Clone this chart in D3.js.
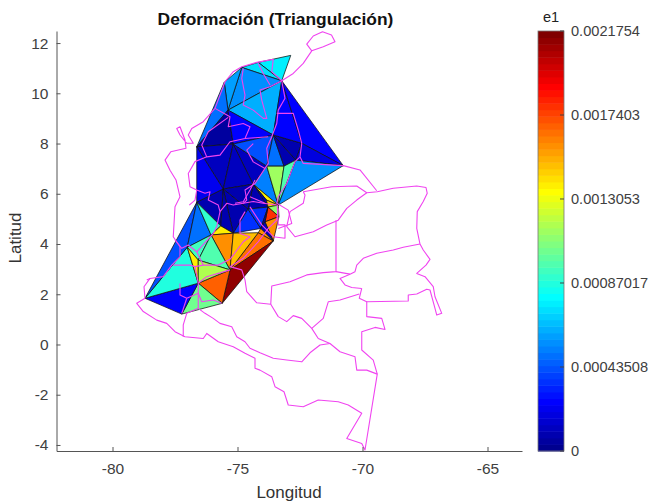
<!DOCTYPE html>
<html lang="es">
<head>
<meta charset="UTF-8">
<title>Deformación (Triangulación)</title>
<style>
body { margin: 0; background: #fff; }
svg { display: block; font-family: "Liberation Sans", Arial, sans-serif; }
.axis text { font-size: 15.5px; fill: #404040; }
.axis path, .axis line { stroke: #555; }
.cbar text { font-size: 14.6px; fill: #404040; }
.tri { stroke: #111; stroke-width: 0.75; stroke-linejoin: round; }
.border { fill: none; stroke: #f044f0; stroke-width: 1.1; stroke-linejoin: round; }
.map { filter: blur(0.35px); }
</style>
</head>
<body>
<svg width="649" height="504"></svg>
<script src="https://d3js.org/d3.v7.min.js"></script>
<script>
// ticks and limits
const lonTicks = [-80, -75, -70, -65];
const latTicks = [-4, -2, 0, 2, 4, 6, 8, 10, 12];
const lonLim = [-82.24, -63.62];
const latLim = [-4.24, 12.48];
const e1Max = 0.0021754;
const e1Ticks = [0, 0.00043508, 0.00087017, 0.0013053, 0.0017403, 0.0021754];
const e1Labels = ['0', '0.00043508', '0.00087017', '0.0013053', '0.0017403', '0.0021754'];

// triangulation vertices
const nodeLon = [-72.87, -74.17, -74.83, -73.23, -75.53, -75.38, -73.57, -76.63, -75.17, -70.77,
  -72.43, -73.83, -73.14, -72.67, -73.37, -74.37, -75.57, -76.63, -73.78, -73.34,
  -73.57, -75.30, -77.01, -76.06, -75.17, -74.17, -74.07, -76.57, -76.57, -78.70,
  -77.23, -75.61, -74.58, -73.84, -73.90, -75.67];
const nodeLat = [11.51, 11.23, 11.03, 10.50, 10.44, 9.33, 8.34, 7.87, 7.98, 7.12,
  8.01, 7.10, 7.10, 7.34, 5.55, 6.38, 6.19, 5.66, 5.47, 5.09,
  4.12, 2.97, 3.87, 4.36, 4.43, 4.45, 4.62, 2.44, 3.36, 1.84,
  1.21, 1.64, 5.39, 5.75, 4.88, 4.72];

// triangle corners (indices into the node arrays) and e1 per triangle
const triangles = [
  [0, 1, 3], [1, 2, 3], [2, 3, 5], [2, 4, 5], [3, 5, 6], [4, 5, 7], [5, 7, 8], [5, 6, 8],
  [7, 8, 16], [7, 16, 17], [8, 16, 15], [8, 15, 11], [8, 6, 11], [6, 11, 12], [6, 10, 13], [6, 12, 13],
  [3, 6, 10], [3, 10, 9], [10, 9, 13], [15, 11, 14], [11, 12, 14], [12, 13, 14], [13, 9, 14],
  [15, 33, 14], [15, 33, 18], [15, 18, 32], [16, 15, 32], [16, 32, 24], [32, 24, 26], [32, 18, 26],
  [17, 16, 35], [16, 24, 35], [33, 18, 14], [18, 19, 14], [18, 19, 34], [19, 34, 20], [18, 34, 26],
  [26, 34, 20], [25, 26, 20], [21, 25, 20], [21, 20, 31], [21, 31, 27], [27, 30, 31], [29, 30, 27],
  [29, 22, 27], [29, 17, 22], [17, 22, 23], [17, 23, 35], [35, 23, 24], [23, 24, 21], [24, 25, 21],
  [22, 23, 28], [23, 28, 21], [22, 28, 27], [28, 21, 27]
];
const triValues = [
  0.00078, 0.00074, 0.00057, 0.00061, 0.00063, 0.00048, 0.000065, 0.00026,
  0.00011, 0.00022, 0.00011, 0.00013, 0.00044, 0.00048, 0.00009, 0.00009,
  0.00026, 0.00026, 0.00017, 0.00052, 0.00115, 0.00096, 0.00057,
  0.00139, 0.00009, 0.00009, 0.00009, 0.00009, 0.00037, 0.00037,
  0.00009, 0.00009, 0.00146, 0.00109, 0.00178, 0.00157, 0.00009,
  0.00011, 0.00157, 0.00165, 0.00213, 0.00168, 0.00102, 0.00027,
  0.00085, 0.00041, 0.00050, 0.00091, 0.00137, 0.00159, 0.00148,
  0.00094, 0.00098, 0.00137, 0.00117
];

// department borders, lon/lat pairs
const borders = [
  [[-72.37, 6.08], [-71.23, 6.28], [-70.23, 6.31], [-69.83, 6.04], [-69.41, 6.08], [-68.77, 6.22], [-67.83, 6.31], [-67.46, 6.25], [-67.41, 6.02], [-67.57, 5.69], [-67.81, 5.29], [-67.83, 4.62], [-67.70, 4.00], [-67.57, 3.76], [-67.30, 3.39], [-67.46, 3.16], [-67.83, 2.83], [-67.50, 2.70], [-67.17, 2.30], [-67.10, 1.90], [-66.83, 1.24], [-67.03, 1.17], [-67.10, 1.44], [-67.30, 2.17], [-67.43, 2.20], [-67.83, 2.01], [-68.17, 1.97], [-68.17, 1.73], [-69.83, 1.70], [-70.13, 1.84], [-70.03, 2.23]],
  [[-67.70, 4.00], [-68.37, 3.87], [-68.77, 3.76], [-69.43, 3.63], [-69.97, 3.43], [-70.23, 3.16], [-70.30, 2.90], [-70.50, 2.80], [-70.90, 2.63], [-70.70, 2.37], [-70.43, 2.27], [-70.03, 2.23]],
  [[-69.83, 6.04], [-70.23, 5.75], [-70.63, 5.42], [-70.97, 4.95], [-71.43, 4.76], [-71.97, 4.49], [-72.70, 4.29], [-73.03, 4.69], [-72.90, 5.29], [-72.37, 5.62], [-72.30, 5.95], [-72.37, 6.08]],
  [[-71.06, 4.95], [-71.06, 2.90], [-71.57, 2.86], [-72.23, 2.77], [-72.90, 2.50], [-73.63, 2.33], [-73.67, 1.60], [-74.23, 1.66], [-74.63, 2.10], [-74.70, 2.57], [-74.83, 2.97], [-75.30, 3.10], [-74.77, 3.43], [-74.17, 4.09], [-73.77, 4.62], [-73.43, 4.95], [-73.37, 5.42]],
  [[-71.06, 2.90], [-70.50, 2.80]],
  [[-73.67, 1.60], [-73.37, 1.11], [-73.03, 0.91], [-72.77, 1.15], [-72.43, 1.04], [-72.03, 0.64], [-71.57, 1.04], [-71.37, 1.70], [-70.90, 1.77], [-70.13, 2.01]],
  [[-72.03, 0.64], [-71.77, 0.24], [-71.30, 0.04], [-70.90, -0.29], [-70.30, -0.49], [-70.23, -1.02], [-69.83, -1.02], [-69.41, -1.18]],
  [[-69.83, 1.70], [-69.83, 1.11], [-69.23, 1.04], [-69.10, 0.60], [-69.50, 0.68], [-70.03, 0.51], [-70.03, -0.22], [-69.57, -0.62], [-69.41, -1.18], [-69.90, -4.20], [-70.03, -3.94], [-70.63, -3.74], [-70.03, -2.74], [-70.57, -2.41], [-70.97, -2.28], [-71.77, -2.21], [-72.37, -2.48], [-72.97, -2.41], [-73.14, -1.88], [-73.50, -1.68], [-73.63, -1.28], [-74.10, -1.02], [-74.30, -0.95], [-74.30, -0.55], [-74.70, -0.35], [-75.17, -0.09], [-75.77, 0.11], [-76.23, 0.44], [-76.37, 0.24], [-77.10, 0.31], [-77.50, 0.51], [-77.83, 0.84], [-78.23, 0.97], [-78.77, 1.31], [-79.03, 1.64], [-78.70, 1.84], [-78.74, 2.30], [-78.50, 2.63], [-77.97, 2.70], [-77.63, 3.16], [-77.30, 3.50], [-77.30, 3.89], [-77.57, 4.29], [-77.50, 5.48], [-77.30, 5.88], [-77.46, 6.55], [-77.70, 6.94], [-77.90, 7.34], [-77.67, 7.67], [-77.06, 7.81], [-77.10, 8.14], [-77.30, 8.67], [-77.43, 8.60], [-77.30, 8.34], [-77.03, 8.01], [-76.77, 8.01], [-76.97, 8.34], [-76.83, 8.60], [-76.37, 8.87], [-75.90, 9.40], [-75.50, 10.46], [-75.17, 10.86], [-74.83, 11.06], [-74.23, 11.23], [-73.57, 11.35], [-73.63, 10.86], [-73.23, 10.50], [-72.77, 10.79], [-72.37, 11.19], [-72.03, 11.69], [-72.23, 11.96], [-71.97, 12.28], [-71.60, 12.45], [-71.24, 12.32], [-71.10, 12.05], [-71.57, 11.85], [-72.03, 11.69]],
  [[-71.30, 0.04], [-71.70, -0.02], [-72.10, -0.33], [-72.43, -0.69], [-73.03, -0.62], [-73.57, -0.55], [-74.10, -0.33], [-74.50, -0.15], [-74.70, 0.11], [-75.03, 0.31], [-75.23, 0.71], [-75.70, 0.84], [-75.97, 1.04], [-76.30, 1.24], [-76.57, 1.44], [-76.57, 2.04], [-76.57, 2.44], [-76.70, 3.10]],
  [[-76.57, 1.44], [-77.03, 1.24], [-77.17, 0.78], [-77.17, 0.31]],
  [[-74.77, 10.99], [-74.83, 10.59], [-74.70, 9.93], [-74.77, 9.53], [-74.37, 9.33], [-73.97, 9.00], [-73.83, 9.00], [-74.03, 9.73], [-74.10, 10.13], [-73.70, 10.26], [-73.23, 10.50]],
  [[-74.17, 11.19], [-73.97, 10.79], [-73.70, 10.33]],
  [[-73.23, 10.50], [-73.10, 9.80], [-73.37, 9.33], [-73.43, 8.80], [-73.63, 8.27], [-73.83, 7.81], [-73.77, 7.21], [-73.90, 7.01], [-74.37, 7.27], [-74.63, 7.74], [-74.37, 8.00]],
  [[-73.43, 9.20], [-72.77, 9.20], [-72.57, 8.54], [-72.43, 8.01], [-72.50, 7.47], [-72.37, 7.21], [-70.77, 7.12], [-70.10, 6.95], [-69.43, 6.12]],
  [[-72.50, 7.47], [-72.70, 7.28], [-72.83, 6.94], [-73.03, 6.41], [-73.37, 5.88], [-73.43, 5.62], [-72.97, 5.35], [-72.83, 4.82], [-73.37, 4.62]],
  [[-75.90, 9.40], [-75.30, 9.07], [-75.37, 8.67], [-74.77, 8.80], [-74.50, 8.67], [-74.70, 8.20], [-75.30, 8.07], [-75.70, 7.54], [-76.23, 7.47], [-76.43, 7.94], [-76.17, 8.47], [-75.37, 9.04]],
  [[-74.70, 8.20], [-73.77, 8.27]],
  [[-73.90, 7.01], [-74.30, 6.41], [-74.70, 6.15], [-74.63, 5.75], [-74.77, 5.62]],
  [[-76.23, 7.47], [-76.70, 7.28], [-76.97, 6.81], [-76.90, 6.28], [-76.63, 6.15], [-76.30, 6.02], [-76.10, 6.08], [-76.17, 5.75], [-75.77, 5.55], [-75.70, 5.29], [-75.43, 5.62], [-75.17, 5.55], [-74.77, 5.62], [-74.37, 5.69], [-73.97, 5.62], [-73.43, 5.55]],
  [[-76.63, 6.15], [-76.70, 5.75], [-76.93, 5.55]],
  [[-75.70, 5.29], [-75.83, 4.69], [-75.97, 4.42], [-76.63, 3.69]],
  [[-74.70, 5.29], [-74.90, 4.95], [-74.90, 4.42], [-74.50, 4.29], [-74.77, 4.09], [-75.30, 3.39]],
  [[-74.30, 6.55], [-74.50, 6.15], [-74.77, 5.68], [-75.10, 5.62]],
  [[-74.50, 5.88], [-73.90, 5.62]],
  [[-74.50, 5.48], [-74.03, 4.76], [-73.57, 4.29], [-73.10, 4.23], [-73.10, 4.76], [-73.37, 4.76], [-73.41, 5.55]],
  [[-77.50, 4.16], [-77.23, 3.83], [-76.97, 3.96], [-76.63, 3.69], [-76.37, 3.16], [-75.77, 3.16], [-75.30, 3.39]],
  [[-78.63, 2.57], [-78.50, 2.63]],
  [[-77.57, 3.16], [-76.90, 3.16], [-76.70, 3.10], [-76.37, 3.16]],
  [[-77.30, 2.43], [-77.30, 1.97], [-77.03, 1.84], [-76.57, 2.04], [-76.43, 1.70], [-75.97, 1.77], [-75.63, 1.64]],
  [[-77.03, 1.84], [-77.23, 1.24]],
  [[-76.57, 2.44], [-76.23, 2.70], [-75.30, 2.97]]
];

const svg = d3.select('svg');
const x = d3.scaleLinear().domain(lonLim).range([56.5, 522]);
const y = d3.scaleLinear().domain(latLim).range([451, 31]);

// jet, 64 levels like the matlab colorbar
const jetIndex = d3.scaleLinear()
  .domain([0, 7, 23, 39, 55, 63])
  .range(['#00008f', '#0000ff', '#00ffff', '#ffff00', '#ff0000', '#800000']);
const jet = d3.scaleQuantize().domain([0, e1Max]).range(d3.range(64).map(i => jetIndex(i)));

const line = d3.line().x(d => x(d[0])).y(d => y(d[1]));

svg.append('defs').append('clipPath').attr('id', 'plotClip')
  .append('rect').attr('x', 56.5).attr('y', 31).attr('width', 465.5).attr('height', 420);

const map = svg.append('g').attr('class', 'map').attr('clip-path', 'url(#plotClip)');

map.selectAll('.tri')
  .data(triangles)
  .join('path')
  .attr('class', 'tri')
  .attr('fill', (d, i) => jet(triValues[i]))
  .attr('d', d => line(d.map(n => [nodeLon[n], nodeLat[n]])) + 'Z');

map.selectAll('.border')
  .data(borders)
  .join('path')
  .attr('class', 'border')
  .attr('d', line);

// axes, left and bottom only
const xAxis = svg.append('g')
  .attr('class', 'axis')
  .attr('transform', 'translate(0,451)')
  .call(d3.axisBottom(x).tickValues(lonTicks).tickSize(-4).tickPadding(12).tickSizeOuter(0));
const yAxis = svg.append('g')
  .attr('class', 'axis')
  .attr('transform', 'translate(56.5,0)')
  .call(d3.axisLeft(y).tickValues(latTicks).tickSize(-4).tickPadding(8).tickSizeOuter(0));
// d3 puts a unicode minus, the reference has a plain hyphen
xAxis.selectAll('text').text(d => d);
yAxis.selectAll('text').text(d => d);

svg.append('text')
  .attr('x', 275.5).attr('y', 25)
  .attr('text-anchor', 'middle')
  .style('font-size', '17.4px').style('font-weight', 'bold').style('fill', '#111')
  .text('Deformación (Triangulación)');
svg.append('text')
  .attr('x', 289).attr('y', 498)
  .attr('text-anchor', 'middle')
  .style('font-size', '17px').style('fill', '#333')
  .text('Longitud');
svg.append('text')
  .attr('transform', 'translate(21,238) rotate(-90)')
  .attr('text-anchor', 'middle')
  .style('font-size', '17px').style('fill', '#333')
  .text('Latitud');

// colorbar
const cbarY = d3.scaleLinear().domain([0, e1Max]).range([451, 31]);
const cbar = svg.append('g').attr('class', 'cbar');
cbar.selectAll('rect.level')
  .data(jet.range())
  .join('rect')
  .attr('class', 'level')
  .attr('x', 538)
  .attr('width', 26)
  .attr('y', (d, i) => cbarY((i + 1) / 64 * e1Max))
  .attr('height', 420 / 64 + 0.5)
  .attr('fill', d => d);
cbar.append('rect')
  .attr('x', 538).attr('y', 31).attr('width', 26).attr('height', 420)
  .attr('fill', 'none').attr('stroke', '#777').attr('stroke-width', 0.8);
cbar.selectAll('line')
  .data(e1Ticks)
  .join('line')
  .attr('x1', 560).attr('x2', 564)
  .attr('y1', d => cbarY(d)).attr('y2', d => cbarY(d))
  .attr('stroke', '#444');
cbar.selectAll('text.tick')
  .data(e1Ticks)
  .join('text')
  .attr('class', 'tick')
  .attr('x', 571)
  .attr('y', d => cbarY(d) + 5)
  .text((d, i) => e1Labels[i]);
cbar.append('text')
  .attr('x', 551).attr('y', 22)
  .attr('text-anchor', 'middle')
  .style('fill', '#222')
  .text('e1');
</script>
</body>
</html>
